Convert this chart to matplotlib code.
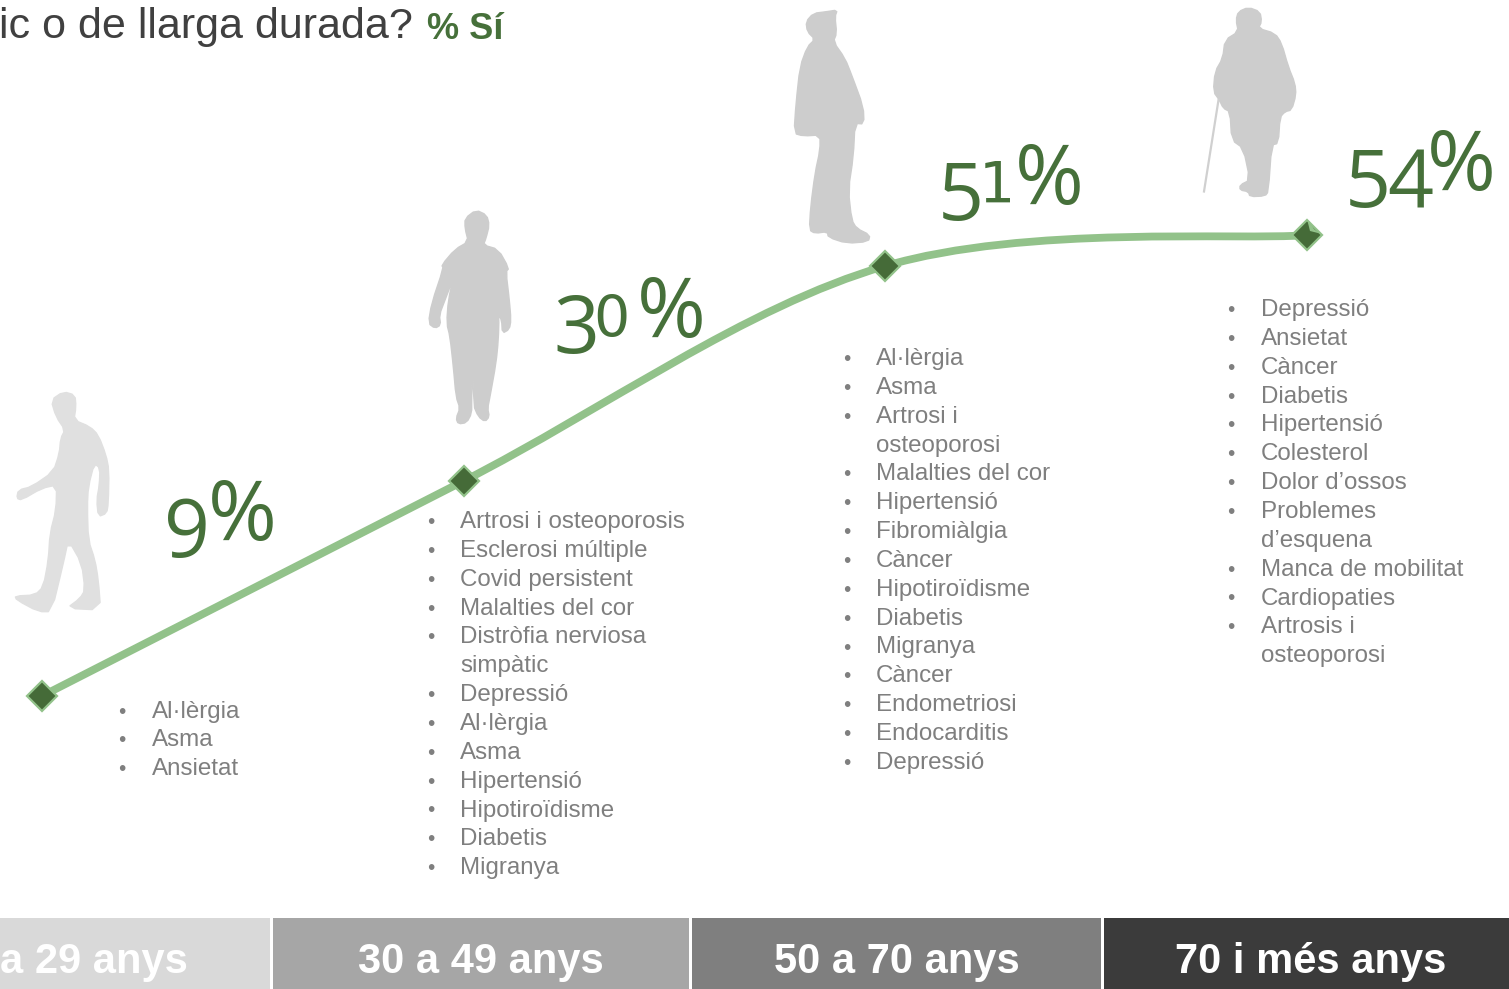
import numpy as np
import matplotlib
matplotlib.use("Agg")
import matplotlib.pyplot as plt
from matplotlib.path import Path
from matplotlib.patches import PathPatch, Polygon

#---------- data -------------------#

pct_si = [9, 30, 51, 54]

band_labels = ["a 29 anys", "30 a 49 anys", "50 a 70 anys", "70 i més anys"]
band_colors = ["#d9d9d9", "#a6a6a6", "#7f7f7f", "#3b3b3b"]

list_18 = ["Al·lèrgia", "Asma", "Ansietat"]
list_30 = ["Artrosi i osteoporosis", "Esclerosi múltiple", "Covid persistent",
           "Malalties del cor", "Distròfia nerviosa\nsimpàtic", "Depressió",
           "Al·lèrgia", "Asma", "Hipertensió", "Hipotiroïdisme", "Diabetis",
           "Migranya"]
list_50 = ["Al·lèrgia", "Asma", "Artrosi i\nosteoporosi", "Malalties del cor",
           "Hipertensió", "Fibromiàlgia", "Càncer", "Hipotiroïdisme", "Diabetis",
           "Migranya", "Càncer", "Endometriosi", "Endocarditis", "Depressió"]
list_70 = ["Depressió", "Ansietat", "Càncer", "Diabetis", "Hipertensió",
           "Colesterol", "Dolor d’ossos", "Problemes\nd’esquena",
           "Manca de mobilitat", "Cardiopaties", "Artrosis i\nosteoporosi"]

#---------- silhouettes (zoomed px) --------------------------------------------#

man_walk = [(190,95),(225,105),(228,140),(222,180),(270,200),(295,225),(318,285),(327,330),
            (325,430),(320,460),(295,470),(290,420),(298,375),(300,325),(283,310),(265,380),
            (262,440),(265,540),(285,600),(295,660),(302,750),(200,745),(240,715),(255,690),
            (245,610),(205,540),(190,610),(155,755),(115,755),(50,720),(45,708),(105,705),
            (130,680),(145,600),(150,520),(168,450),(170,375),(125,385),(65,420),(50,415),
            (55,390),(95,380),(160,335),(178,280),(182,235),(195,210),(168,170),(153,120)]
woman = [(228,30),(260,45),(268,75),(258,115),(250,135),(295,148),(327,205),(318,215),
         (328,300),(333,360),(328,388),(307,400),(305,360),(295,345),(290,250),(297,350),
         (295,420),(288,490),(270,590),(263,625),(268,650),(255,665),(235,650),(220,615),
         (218,410),(215,600),(215,640),(200,668),(175,672),(168,655),(180,625),(168,590),
         (160,500),(150,410),(140,370),(145,300),(160,235),(135,300),(118,345),(122,375),
         (105,385),(85,370),(95,310),(130,205),(125,195),(165,148),(205,125),(195,85),(195,55)]
man_cap = [(352,30),(345,50),(350,100),(340,125),(375,175),(395,225),(430,320),(432,372),
           (405,370),(400,470),(385,570),(395,660),(410,685),(450,705),(445,725),(380,730),
           (325,712),(322,695),(285,700),(268,690),(272,620),(285,520),(300,450),(300,405),
           (250,408),(222,400),(228,310),(240,200),(262,140),(285,118),(262,95),(258,65),
           (280,40),(320,35)]
old_man = [(205,22),(240,35),(245,65),(235,85),(285,100),(305,130),(325,200),(345,250),
           (348,285),(335,330),(315,335),(300,352),(295,430),(275,435),(265,575),(255,588),
           (210,590),(205,575),(180,570),(180,555),(210,540),(190,445),(155,420),(150,335),
           (130,325),(118,300),(100,275),(105,215),(128,175),(135,120),(175,95),(168,60),(175,35)]

#---------- figure -------------------#

green = "#46703a"
line_green = "#92c28a"
grey = "#7f7f7f"
sans = "Liberation Sans"

fig = plt.figure(figsize=(15.09, 9.89), dpi=100)

# overlay in pixel coordinates, for everything that is not the line
ax = fig.add_axes([0, 0, 1, 1])
ax.set_xlim(0, 1509)
ax.set_ylim(989, 0)
ax.axis("off")

# line axes, the % scale runs over the whole picture
ax2 = fig.add_axes([0, 0, 1, 1])
ax2.set_xlim(-42.0/421.67, (1509-42.0)/421.67)
ax2.set_ylim(9-(989-696)/10.24, 9+696/10.24)
ax2.axis("off")

def person(pts, x0, y0, col):
    xy = np.array(pts, dtype=float)
    # one corner cut, the traced outline is too angular otherwise
    nxt = np.roll(xy, -1, axis=0)
    xy = np.column_stack([0.75*xy+0.25*nxt, 0.25*xy+0.75*nxt]).reshape(-1, 2)
    xy = xy/3.0+[x0, y0]
    ax.add_patch(Polygon(xy, closed=True, fc=col, ec=col, lw=1.0, joinstyle="round"))

person(man_walk, 0, 360, "#e0e0e0")
person(woman, 400, 200, "#cdcdcd")
person(man_cap, 720, 0, "#cdcdcd")
person(old_man, 1180, 0, "#cdcdcd")
ax.plot([1204, 1218.5], [191.5, 100], color="#d0d0d0", lw=1.6)

# smooth line through the four values
x = np.arange(len(pct_si), dtype=float)
y = np.array(pct_si, dtype=float)
verts = [(x[0], y[0])]
codes = [Path.MOVETO]
for i in range(len(x)-1):
    i0 = max(i-1, 0)
    i3 = min(i+2, len(x)-1)
    verts.append((x[i]+(x[i+1]-x[i0])/6.0, y[i]+(y[i+1]-y[i0])/6.0))
    verts.append((x[i+1]-(x[i3]-x[i])/6.0, y[i+1]-(y[i3]-y[i])/6.0))
    verts.append((x[i+1], y[i+1]))
    codes += [Path.CURVE4]*3
ax2.add_patch(PathPatch(Path(verts, codes), fc="none", ec=line_green, lw=5.6, capstyle="butt"))
ax2.plot(x, y, ls="none", marker="D", ms=15, mfc="#456b38", mec=line_green, mew=1.6)

# notch in the last marker
ax2.set_zorder(1)
ax.set_zorder(2)
ax.patch.set_visible(False)
ax.add_patch(Polygon([(1308,223),(1310,231),(1320,233.5),(1314,229),(1309,221)], closed=True, fc=line_green, ec="none"))

# % labels, old style digits: some hang below the sign, some are small
pct_font = dict(family="Open Sans", color=green, va="baseline", ha="left")
small_font = dict(family="DejaVu Sans", color=green, va="baseline", ha="left", size=41)
ax.text(164, 557, "9", size=58, **pct_font)
ax.text(208, 540, "%", size=60, **pct_font)
ax.text(553, 353, "3", size=58, **pct_font)
ax.text(593, 337, "0", **small_font)
ax.text(637, 337, "%", size=60, **pct_font)
ax.text(938, 220, "5", size=58, **pct_font)
ax.text(979, 203, "1", **small_font)
ax.text(1015, 204, "%", size=60, **pct_font)
ax.text(1345, 207, "5", size=58, **pct_font)
ax.text(1387, 207, "4", size=58, **pct_font)
ax.text(1427, 190, "%", size=60, **pct_font)

# title, cut on the left as in the picture
ax.text(413, 38, "ic o de llarga durada?", family=sans, size=31, color="#404040", ha="right", va="baseline")
ax.text(427, 39, "% Sí", family=sans, size=26, weight="bold", color=green, ha="left", va="baseline")

# disease lists
def bullets(items, xb, xt, ytop):
    row = 0
    for it in items:
        ax.text(xb, ytop+row*28.85, "•", family=sans, size=15, color=grey, ha="center", va="baseline")
        for part in it.split("\n"):
            ax.text(xt, ytop+row*28.85, part, family=sans, size=17.35, color=grey, ha="left", va="baseline")
            row += 1

bullets(list_18, 122, 152, 717.6)
bullets(list_30, 431, 460, 528)
bullets(list_50, 847, 876, 365)
bullets(list_70, 1231, 1261, 316)

# age bands
band_edges = [(0, 270), (273, 689), (692, 1101), (1104, 1509)]
for b in range(4):
    ax.fill_between(band_edges[b], 918, 989, color=band_colors[b], lw=0)
ax.text(0, 973, band_labels[0], family=sans, size=30, weight="bold", color="white", ha="left", va="baseline")
ax.text(481, 973, band_labels[1], family=sans, size=30, weight="bold", color="white", ha="center", va="baseline")
ax.text(897, 973, band_labels[2], family=sans, size=30, weight="bold", color="white", ha="center", va="baseline")
ax.text(1311, 973, band_labels[3], family=sans, size=30, weight="bold", color="white", ha="center", va="baseline")

plt.savefig("out.png", dpi=100)
